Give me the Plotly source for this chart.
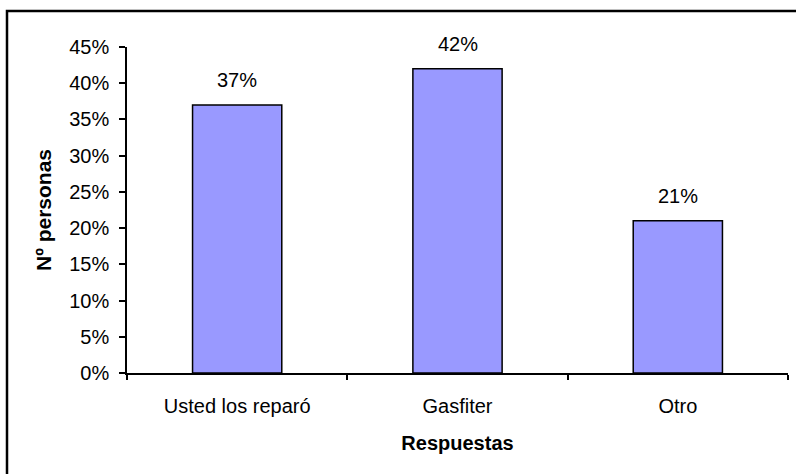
import plotly.graph_objects as go

# Survey answers and their share of respondents
categorias = ["Usted los reparó", "Gasfiter", "Otro"]
porcentajes = [0.37, 0.42, 0.21]

FONT = "Liberation Sans, Arial, sans-serif"
W, H = 796, 474
ML, MR, MT, MB = 127, 8, 47, 101
PW, PH = W - ML - MR, H - MT - MB

fig = go.Figure()
fig.add_trace(go.Bar(
    x=categorias,
    y=porcentajes,
    marker=dict(color="#9999FF", line=dict(color="#000000", width=1.5)),
    width=0.405,
    hoverinfo="skip",
))

# value labels above each bar
for c, v in zip(categorias, porcentajes):
    fig.add_annotation(
        x=c, y=v, text=f"{round(v * 100)}%",
        showarrow=False, yanchor="bottom", yshift=12,
        font=dict(family=FONT, size=20, color="#000000"),
    )

# chart frame (left and top edges)
fig.add_shape(
    type="rect", xref="paper", yref="paper",
    x0=(7 - ML) / PW, x1=2.0,
    y0=-2.0, y1=(MT + PH - 11) / PH,
    line=dict(color="#000000", width=2.5), fillcolor="rgba(0,0,0,0)",
    layer="below",
)

fig.update_layout(
    width=W, height=H,
    margin=dict(l=ML, r=MR, t=MT, b=MB, pad=0),
    paper_bgcolor="#FFFFFF", plot_bgcolor="#FFFFFF",
    showlegend=False,
    font=dict(family=FONT, size=20, color="#000000"),
    xaxis=dict(
        showline=True, linecolor="#000000", linewidth=1.5,
        ticks="outside", tickson="boundaries", ticklen=5, tickcolor="#000000", tickwidth=1.5,
        showgrid=False, zeroline=False,
        tickfont=dict(family=FONT, size=20),
        ticklabelstandoff=14,
        title=dict(text="<b>Respuestas</b>", font=dict(family=FONT, size=20), standoff=20),
    ),
    yaxis=dict(
        range=[0, 0.45], dtick=0.05, tickformat=".0%",
        showline=True, linecolor="#000000", linewidth=1.5,
        ticks="outside", ticklen=6, tickcolor="#000000", tickwidth=1.5,
        showgrid=False, zeroline=False,
        tickfont=dict(family=FONT, size=20),
        ticklabelstandoff=6,
        title=dict(text="<b>Nº personas</b>", font=dict(family=FONT, size=21), standoff=12),
    ),
)

fig.write_html("out.html")
